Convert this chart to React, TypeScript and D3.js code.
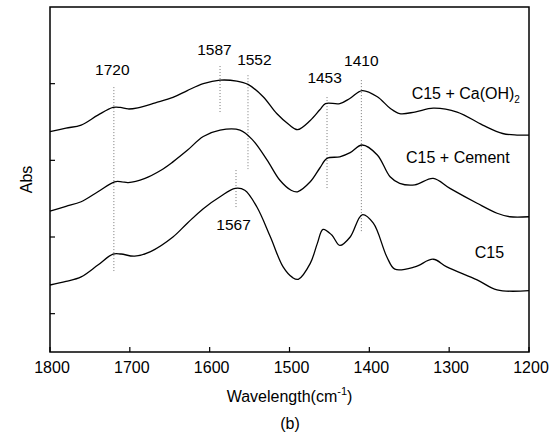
import React from "react";
import * as d3 from "d3";

// [wavenumber (cm-1), absorbance (a.u.)]
const caOH2Series: [number, number][] = [
  [1800, 2.875], [1780, 2.92], [1761, 2.96], [1740, 3.09], [1721, 3.19], [1712, 3.19],
  [1702, 3.17], [1690, 3.185], [1668, 3.25], [1646, 3.32], [1628, 3.41], [1608, 3.5],
  [1587, 3.546], [1566, 3.533], [1552, 3.49], [1533, 3.33], [1516, 3.11], [1500, 2.96],
  [1490, 2.9], [1474, 3.02], [1462, 3.16], [1455, 3.24], [1437, 3.24], [1424, 3.31],
  [1409, 3.41], [1390, 3.33], [1374, 3.18], [1362, 3.11], [1343, 3.13], [1320, 3.18],
  [1290, 3.13], [1258, 2.96], [1233, 2.85], [1215, 2.83], [1200, 2.83],
];

const cementSeries: [number, number][] = [
  [1800, 1.838], [1780, 1.9], [1761, 1.96], [1740, 2.09], [1719, 2.22], [1710, 2.22],
  [1702, 2.21], [1681, 2.265], [1661, 2.37], [1646, 2.48], [1628, 2.63], [1608, 2.81],
  [1587, 2.894], [1562, 2.894], [1546, 2.764], [1528, 2.503], [1512, 2.24], [1498, 2.11],
  [1490, 2.09], [1474, 2.22], [1462, 2.4], [1453, 2.525], [1437, 2.546], [1424, 2.6],
  [1409, 2.7], [1390, 2.57], [1374, 2.285], [1362, 2.2], [1343, 2.18], [1320, 2.265],
  [1299, 2.134], [1265, 1.94], [1240, 1.81], [1224, 1.764], [1200, 1.764],
];

const c15Series: [number, number][] = [
  [1800, 0.874], [1780, 0.92], [1761, 0.98], [1740, 1.134], [1721, 1.278], [1711, 1.278],
  [1694, 1.25], [1674, 1.31], [1646, 1.5], [1628, 1.68], [1608, 1.87], [1587, 2.025],
  [1568, 2.134], [1556, 2.11], [1541, 1.894], [1524, 1.503], [1508, 1.11], [1496, 0.97],
  [1489, 0.948], [1474, 1.156], [1465, 1.42], [1458, 1.6], [1447, 1.525], [1437, 1.39],
  [1424, 1.5], [1409, 1.79], [1395, 1.68], [1378, 1.24], [1368, 1.08], [1343, 1.11],
  [1320, 1.21], [1303, 1.11], [1265, 0.94], [1240, 0.81], [1200, 0.8],
];

const seriesNames = ["C15 + Ca(OH)", "C15 + Cement", "C15"];
const seriesLabelPos: [number, number][] = [[1347, 3.305], [1354, 2.464], [1268, 1.226]];

// peak annotations: wavenumber, line from/to (abs), label wavenumber, label abs
const peakWaves = [1720, 1587, 1552, 1567, 1453, 1410];
const peakLineTop = [3.455, 3.73, 3.61, 2.373, 3.325, 3.546];
const peakLineBottom = [1.056, 3.13, 2.386, 1.877, 2.138, 1.55];
const peakLabelWave = [1722, 1594, 1544, 1570, 1456, 1410];
const peakLabelAbs = [3.61, 3.87, 3.74, 1.59, 3.507, 3.735];

const xTicks = [1800, 1700, 1600, 1500, 1400, 1300, 1200];
const yTicks = [0.5, 1.5, 2.5, 3.5];

const W = 553;
const H = 440;
const M = { left: 50, right: 24, top: 7, bottom: 88 };
const FONT = "'Liberation Sans', Arial, sans-serif";

export default function App() {
  const x = d3.scaleLinear().domain([1800, 1200]).range([M.left, W - M.right]);
  const y = d3.scaleLinear().domain([0, 4.5]).range([H - M.bottom, M.top]);
  const line = d3
    .line<[number, number]>()
    .x((d) => x(d[0]))
    .y((d) => y(d[1]))
    .curve(d3.curveCatmullRom.alpha(0.5));

  const series = [caOH2Series, cementSeries, c15Series];
  const x0 = x.range()[0];
  const x1 = x.range()[1];
  const yb = y.range()[0];
  const yt = y.range()[1];

  return (
    <svg
      width={W}
      height={H}
      style={{ position: "absolute", left: 0, top: 0, background: "#fff" }}
      fontFamily={FONT}
    >
      <rect x={0} y={0} width={W} height={H} fill="#fff" />
      {/* dotted peak lines */}
      {peakWaves.map((w, i) => (
        <line
          key={"pl" + i}
          x1={x(w)}
          x2={x(w)}
          y1={y(peakLineTop[i])}
          y2={y(peakLineBottom[i])}
          stroke="#777"
          strokeWidth={1}
          strokeDasharray="1,2"
        />
      ))}
      {/* curves */}
      {series.map((s, i) => (
        <path key={"s" + i} d={line(s) || ""} fill="none" stroke="#000" strokeWidth={1.3} />
      ))}
      {/* peak labels */}
      {peakWaves.map((w, i) => (
        <text
          key={"lb" + i}
          x={x(peakLabelWave[i])}
          y={y(peakLabelAbs[i])}
          textAnchor="middle"
          fontSize={15.5}
          fill="#000"
        >
          {w}
        </text>
      ))}
      {/* series labels */}
      {seriesNames.map((n, i) => (
        <text
          key={"sn" + i}
          x={x(seriesLabelPos[i][0])}
          y={y(seriesLabelPos[i][1])}
          textAnchor="start"
          fontSize={16}
          fill="#000"
        >
          {n}
          {i === 0 ? (
            <tspan fontSize={10} dy={4}>
              2
            </tspan>
          ) : null}
        </text>
      ))}
      {/* frame */}
      <rect x={x0} y={yt} width={x1 - x0} height={yb - yt} fill="none" stroke="#000" strokeWidth={1.5} />
      {/* x ticks */}
      {xTicks.map((t) => (
        <g key={"xt" + t}>
          <line x1={x(t)} x2={x(t)} y1={yb} y2={yb - 5} stroke="#000" strokeWidth={1.2} />
          <text x={x(t) + 2} y={yb + 21} textAnchor="middle" fontSize={16} fill="#000">
            {t}
          </text>
        </g>
      ))}
      {/* y ticks */}
      {yTicks.map((t) => (
        <line key={"yt" + t} x1={x0} x2={x0 + 5} y1={y(t)} y2={y(t)} stroke="#000" strokeWidth={1.2} />
      ))}
      {/* axis titles */}
      <text x={(x0 + x1) / 2} y={402} textAnchor="middle" fontSize={16} fill="#000">
        Wavelength(cm
        <tspan fontSize={11} dy={-7}>-1</tspan>
        <tspan dy={7}>)</tspan>
      </text>
      <text x={290} y={429} textAnchor="middle" fontSize={16} fill="#000">
        (b)
      </text>
      <text
        transform={`translate(32, ${(yb + yt) / 2}) rotate(-90)`}
        textAnchor="middle"
        fontSize={16}
        fill="#000"
      >
        Abs
      </text>
    </svg>
  );
}
